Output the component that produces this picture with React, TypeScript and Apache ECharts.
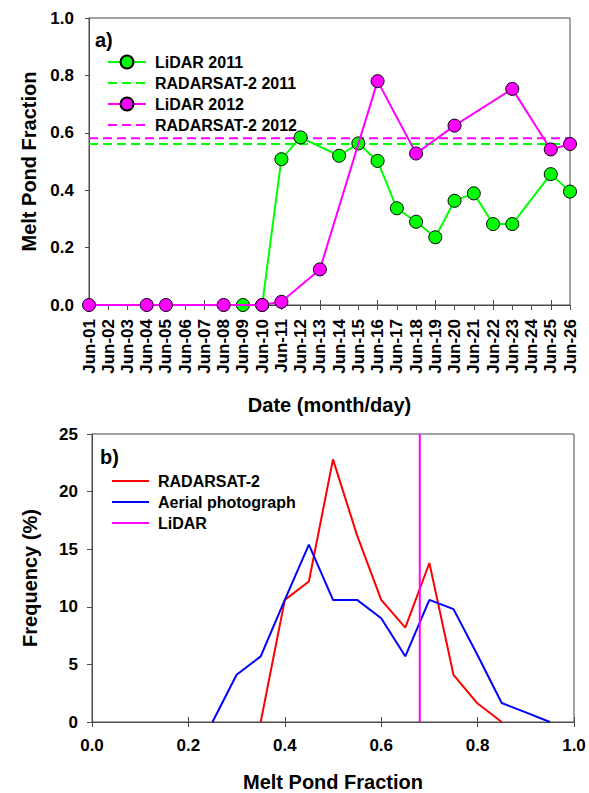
import React, { useEffect, useRef } from "react";
import * as echarts from "echarts";

// ---------- Panel a data ----------
const DATES = [
  "Jun-01", "Jun-02", "Jun-03", "Jun-04", "Jun-05", "Jun-06", "Jun-07", "Jun-08", "Jun-09",
  "Jun-10", "Jun-11", "Jun-12", "Jun-13", "Jun-14", "Jun-15", "Jun-16", "Jun-17", "Jun-18",
  "Jun-19", "Jun-20", "Jun-21", "Jun-22", "Jun-23", "Jun-24", "Jun-25", "Jun-26",
];
const LIDAR_2011: (number | null)[] = [
  null, null, null, null, null, null, null, null, 0,
  0, 0.508, 0.584, null, 0.52, 0.563, 0.502, 0.337, 0.29,
  0.236, 0.363, 0.389, 0.282, 0.282, null, 0.456, 0.395,
];
const LIDAR_2012: (number | null)[] = [
  0, null, null, 0, 0, null, null, 0, null,
  0, 0.011, null, 0.124, null, null, 0.78, null, 0.528,
  null, 0.625, null, null, 0.753, null, 0.542, 0.561,
];
const RADARSAT_2011 = 0.561;
const RADARSAT_2012 = 0.581;

// ---------- Panel b data ----------
const RADARSAT_X = [0.35, 0.4, 0.45, 0.5, 0.55, 0.6, 0.65, 0.7, 0.75, 0.8, 0.85];
const RADARSAT_FREQ = [0, 10.6, 12.2, 22.8, 16.2, 10.6, 8.2, 13.8, 4.1, 1.6, 0];
const AERIAL_X = [0.25, 0.3, 0.35, 0.4, 0.45, 0.5, 0.55, 0.6, 0.65, 0.7, 0.75, 0.8, 0.85, 0.9, 0.95];
const AERIAL_FREQ = [0, 4.1, 5.7, 10.6, 15.4, 10.6, 10.6, 9.0, 5.7, 10.6, 9.8, 5.8, 1.65, 0.83, 0];
const LIDAR_FRACTION = 0.68;
const FREQ_RANGE = [0, 25];

const FONT = "'Liberation Sans', Arial, Helvetica, sans-serif";
const AXIS_COLOR = "#4a4a4a";
const GREEN = "#00ff00";
const MAGENTA = "#ff00ff";

export default function App() {
  const ref = useRef<HTMLDivElement>(null);

  useEffect(() => {
    document.body.style.margin = "0";
    if (!ref.current) return;
    const chart = echarts.init(ref.current, undefined, { renderer: "svg" });

    const labelStyle = { color: "#000", fontFamily: FONT, fontWeight: "bold" as const };
    const hiddenSymbol = { opacity: 0 };

    const option: any = {
      animation: false,
      backgroundColor: "#fff",
      textStyle: { fontFamily: FONT },
      grid: [
        { left: 89, right: 19, top: 18, height: 287, show: true, borderColor: AXIS_COLOR, borderWidth: 1, backgroundColor: "transparent" },
        { left: 92, right: 15, top: 434, height: 288, show: true, borderColor: AXIS_COLOR, borderWidth: 1, backgroundColor: "transparent" },
      ],
      xAxis: [
        {
          type: "category",
          gridIndex: 0,
          data: DATES,
          boundaryGap: false,
          axisLine: { lineStyle: { color: AXIS_COLOR, width: 1 } },
          axisTick: { show: true, inside: false, length: 5, lineStyle: { color: AXIS_COLOR } },
          axisLabel: { ...labelStyle, fontSize: 17, rotate: 90, margin: 14, interval: 0 },
          splitLine: { show: false },
          name: "Date (month/day)",
          nameLocation: "middle",
          nameGap: 90,
          nameTextStyle: { ...labelStyle, fontSize: 20 },
        },
        {
          type: "category",
          gridIndex: 0,
          data: DATES,
          boundaryGap: false,
          position: "bottom",
          axisLine: { show: false },
          axisTick: { show: true, inside: true, length: 5, lineStyle: { color: AXIS_COLOR } },
          axisLabel: { show: false },
          splitLine: { show: false },
        },
        {
          type: "value",
          gridIndex: 1,
          min: 0,
          max: 1,
          interval: 0.2,
          axisLine: { show: true, lineStyle: { color: AXIS_COLOR, width: 1 } },
          axisTick: { show: true, inside: false, length: 5, lineStyle: { color: AXIS_COLOR } },
          axisLabel: { ...labelStyle, fontSize: 17, margin: 15, formatter: (v: number) => v.toFixed(1) },
          splitLine: { show: false },
          name: "Melt Pond Fraction",
          nameLocation: "middle",
          nameGap: 50,
          nameTextStyle: { ...labelStyle, fontSize: 20 },
        },
        {
          type: "value",
          gridIndex: 1,
          min: 0,
          max: 1,
          interval: 0.2,
          position: "bottom",
          axisLine: { show: false },
          axisTick: { show: true, inside: true, length: 5, lineStyle: { color: AXIS_COLOR } },
          axisLabel: { show: false },
          splitLine: { show: false },
        },
      ],
      yAxis: [
        {
          type: "value",
          gridIndex: 0,
          min: 0,
          max: 1,
          interval: 0.2,
          axisLine: { show: true, lineStyle: { color: AXIS_COLOR, width: 1 } },
          axisTick: { show: true, inside: false, length: 4, lineStyle: { color: AXIS_COLOR } },
          axisLabel: { ...labelStyle, fontSize: 17, margin: 15, formatter: (v: number) => v.toFixed(1) },
          splitLine: { show: false },
          name: "Melt Pond Fraction",
          nameLocation: "middle",
          nameGap: 50,
          nameTextStyle: { ...labelStyle, fontSize: 20 },
        },
        {
          type: "value",
          gridIndex: 1,
          min: FREQ_RANGE[0],
          max: FREQ_RANGE[1],
          interval: 5,
          axisLine: { show: true, lineStyle: { color: AXIS_COLOR, width: 1 } },
          axisTick: { show: true, inside: false, length: 5, lineStyle: { color: AXIS_COLOR } },
          axisLabel: { ...labelStyle, fontSize: 17, margin: 14 },
          splitLine: { show: false },
          name: "Frequency (%)",
          nameLocation: "middle",
          nameGap: 52,
          nameTextStyle: { ...labelStyle, fontSize: 20 },
        },
      ],
      legend: [
        {
          data: [
            { name: "LiDAR 2011" },
            { name: "RADARSAT-2 2011", itemStyle: hiddenSymbol },
            { name: "LiDAR 2012" },
            { name: "RADARSAT-2 2012", itemStyle: hiddenSymbol },
          ],
          orient: "vertical",
          left: 102,
          top: 49,
          itemWidth: 38,
          itemHeight: 16,
          itemGap: 5,
          textStyle: { ...labelStyle, fontSize: 16, padding: [0, 0, 0, 4] },
          selectedMode: false,
        },
        {
          data: [
            { name: "RADARSAT-2", itemStyle: hiddenSymbol },
            { name: "Aerial photograph", itemStyle: hiddenSymbol },
            { name: "LiDAR", itemStyle: hiddenSymbol },
          ],
          orient: "vertical",
          left: 106,
          top: 468,
          itemWidth: 37,
          itemHeight: 16,
          itemGap: 5,
          textStyle: { ...labelStyle, fontSize: 16, padding: [0, 0, 0, 4] },
          selectedMode: false,
        },
      ],
      graphic: [
        { type: "text", left: 95, top: 30, style: { text: "a)", font: `bold 20px ${FONT}`, fill: "#000" } },
        { type: "text", left: 100, top: 447, style: { text: "b)", font: `bold 20px ${FONT}`, fill: "#000" } },
      ],
      series: [
        {
          name: "RADARSAT-2 2011",
          type: "line",
          xAxisIndex: 0,
          yAxisIndex: 0,
          data: DATES.map(() => RADARSAT_2011),
          symbol: "none",
          z: 1,
          lineStyle: { color: GREEN, width: 2, type: [9, 5] },
          itemStyle: { color: GREEN },
        },
        {
          name: "RADARSAT-2 2012",
          type: "line",
          xAxisIndex: 0,
          yAxisIndex: 0,
          data: DATES.map(() => RADARSAT_2012),
          symbol: "none",
          z: 1,
          lineStyle: { color: MAGENTA, width: 2, type: [9, 5] },
          itemStyle: { color: MAGENTA },
        },
        {
          name: "LiDAR 2011",
          type: "line",
          xAxisIndex: 0,
          yAxisIndex: 0,
          data: LIDAR_2011,
          connectNulls: true,
          symbol: "circle",
          symbolSize: 13,
          showAllSymbol: true,
          z: 2,
          lineStyle: { color: GREEN, width: 2 },
          itemStyle: { color: GREEN, borderColor: "#000", borderWidth: 1 },
        },
        {
          name: "LiDAR 2012",
          type: "line",
          xAxisIndex: 0,
          yAxisIndex: 0,
          data: LIDAR_2012,
          connectNulls: true,
          symbol: "circle",
          symbolSize: 13,
          showAllSymbol: true,
          z: 3,
          lineStyle: { color: MAGENTA, width: 2 },
          itemStyle: { color: MAGENTA, borderColor: "#000", borderWidth: 1 },
        },
        {
          name: "RADARSAT-2",
          type: "line",
          xAxisIndex: 2,
          yAxisIndex: 1,
          data: RADARSAT_X.map((x, i) => [x, RADARSAT_FREQ[i]]),
          symbol: "none",
          lineStyle: { color: "#ff0000", width: 2 },
          itemStyle: { color: "#ff0000" },
        },
        {
          name: "Aerial photograph",
          type: "line",
          xAxisIndex: 2,
          yAxisIndex: 1,
          data: AERIAL_X.map((x, i) => [x, AERIAL_FREQ[i]]),
          symbol: "none",
          lineStyle: { color: "#0000ff", width: 2 },
          itemStyle: { color: "#0000ff" },
        },
        {
          name: "LiDAR",
          type: "line",
          xAxisIndex: 2,
          yAxisIndex: 1,
          data: [[LIDAR_FRACTION, FREQ_RANGE[0]], [LIDAR_FRACTION, FREQ_RANGE[1]]],
          symbol: "none",
          lineStyle: { color: MAGENTA, width: 2 },
          itemStyle: { color: MAGENTA },
        },
      ],
    };

    chart.setOption(option);
    return () => chart.dispose();
  }, []);

  return <div ref={ref} style={{ width: 589, height: 793 }} />;
}
